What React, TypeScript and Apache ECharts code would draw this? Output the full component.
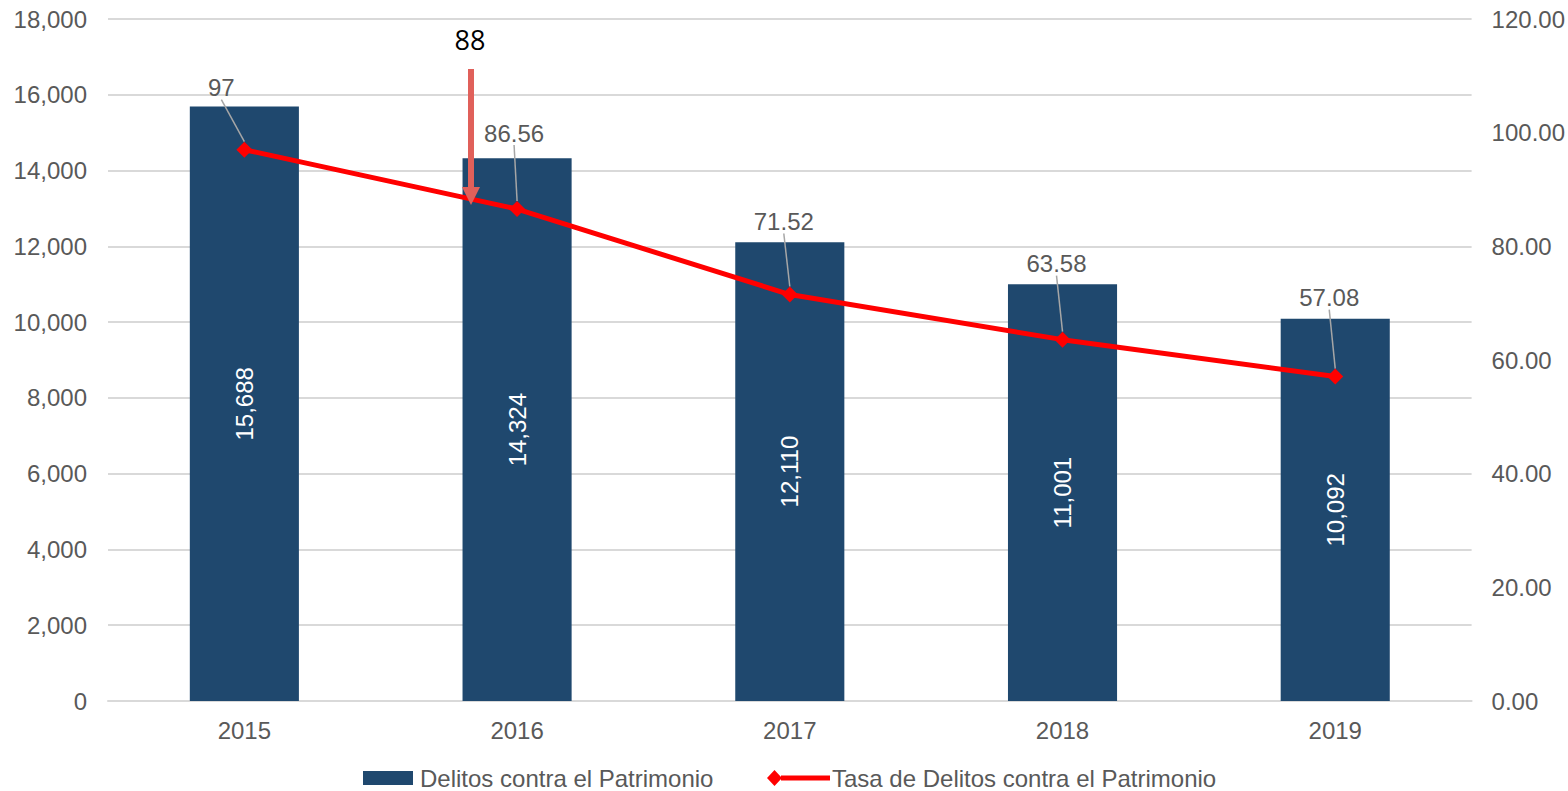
import React, { useEffect, useRef } from "react";
import * as echarts from "echarts";

const categories = ["2015", "2016", "2017", "2018", "2019"];
const delitos = [15688, 14324, 12110, 11001, 10092];
const tasa = [97, 86.56, 71.52, 63.58, 57.08];
const tasaLabels = ["97", "86.56", "71.52", "63.58", "57.08"];
const annotationValue = "88";

const labelOffsets = [
  [-23, -62],
  [-3, -76],
  [-6, -73],
  [-6, -76],
  [-6, -79],
];

const FONT = "'Liberation Sans', Arial, sans-serif";
const GRAY = "#595959";
const FS = 24;

export default function App() {
  const ref = useRef<HTMLDivElement>(null);
  useEffect(() => {
    if (!ref.current) return;
    const chart = echarts.init(ref.current, null, { renderer: "svg" });
    chart.setOption({
      animation: false,
      textStyle: { fontFamily: FONT },
      grid: { left: 108, right: 96, top: 19, bottom: 90, containLabel: false },
      legend: [
        {
          top: 766,
          left: 363,
          padding: 0,
          itemWidth: 50,
          itemHeight: 14,
          itemGap: 7,
          textStyle: { fontSize: 24, color: GRAY, fontFamily: FONT, lineHeight: 24, padding: [0, 0, 0, 2] },
          data: [{ name: "Delitos contra el Patrimonio", icon: "rect" }],
        },
        {
          top: 766,
          left: 767,
          padding: 0,
          itemWidth: 63,
          itemHeight: 16,
          textStyle: { fontSize: 24, color: GRAY, fontFamily: FONT, lineHeight: 24, padding: [0, 0, 0, -3] },
          data: [
            {
              name: "Tasa de Delitos contra el Patrimonio",
              icon: "path://M0,8 L7.5,0 L15,8 L7.5,16 Z M14,5.5 L63,5.5 L63,10.5 L14,10.5 Z",
              itemStyle: { color: "#FF0000" },
            },
          ],
        },
      ],
      xAxis: {
        type: "category",
        data: categories,
        axisLine: { lineStyle: { color: "#d9d9d9", width: 2 } },
        axisTick: { show: false },
        axisLabel: { fontSize: FS, color: GRAY, margin: 17, fontFamily: FONT },
      },
      yAxis: [
        {
          type: "value",
          min: 0,
          max: 18000,
          interval: 2000,
          axisLine: { show: false },
          axisTick: { show: false },
          splitLine: { lineStyle: { color: "#d9d9d9", width: 2 } },
          axisLabel: {
            fontSize: FS,
            color: GRAY,
            margin: 21,
            fontFamily: FONT,
            formatter: (v: number) => v.toLocaleString("en-US"),
          },
        },
        {
          type: "value",
          min: 0,
          max: 120,
          interval: 20,
          axisLine: { show: false },
          axisTick: { show: false },
          splitLine: { show: false },
          axisLabel: {
            fontSize: FS,
            color: GRAY,
            margin: 20,
            fontFamily: FONT,
            formatter: (v: number) => v.toFixed(2),
          },
        },
      ],
      series: [
        {
          name: "Delitos contra el Patrimonio",
          type: "bar",
          data: delitos,
          barWidth: "40%",
          itemStyle: { color: "#1F486E" },
          label: {
            show: true,
            position: "inside",
            rotate: 90,
            color: "#ffffff",
            fontSize: FS,
            fontFamily: FONT,
            formatter: (p: any) => Number(p.value).toLocaleString("en-US"),
          },
        },
        {
          name: "Tasa de Delitos contra el Patrimonio",
          type: "line",
          yAxisIndex: 1,
          data: tasa,
          symbol: "diamond",
          symbolSize: 16,
          lineStyle: { color: "#FF0000", width: 5 },
          itemStyle: { color: "#FF0000" },
          label: {
            show: true,
            position: "top",
            color: GRAY,
            fontSize: FS,
            fontFamily: FONT,
            formatter: (p: any) => tasaLabels[p.dataIndex],
          },
          labelLayout: (p: any) => {
            const o = labelOffsets[p.dataIndex];
            const cx = p.rect.x + p.rect.width / 2;
            const cy = p.rect.y + p.rect.height / 2;
            return {
              x: cx + o[0],
              y: cy + o[1],
              align: "center",
              verticalAlign: "middle",
            };
          },
          labelLine: { show: true, lineStyle: { color: "#a6a6a6", width: 1.5 } },
        },
      ],
      graphic: [
        {
          type: "text",
          x: 470,
          y: 39,
          z: 100,
          style: {
            text: annotationValue,
            fill: "#000000",
            fontSize: 27,
            fontFamily: "'Open Sans', 'Noto Sans', sans-serif",
            textAlign: "center",
            textVerticalAlign: "middle",
          },
        },
        {
          type: "line",
          z: 100,
          shape: { x1: 471, y1: 69, x2: 471, y2: 190 },
          style: { stroke: "#E0605A", lineWidth: 6 },
        },
        {
          type: "polygon",
          z: 100,
          shape: { points: [[462, 187], [480, 187], [471, 205]] },
          style: { fill: "#E0605A" },
        },
      ],
    });
    return () => chart.dispose();
  }, []);
  return (
    <div
      ref={ref}
      style={{ position: "absolute", left: 0, top: 0, width: 1568, height: 791 }}
    />
  );
}
